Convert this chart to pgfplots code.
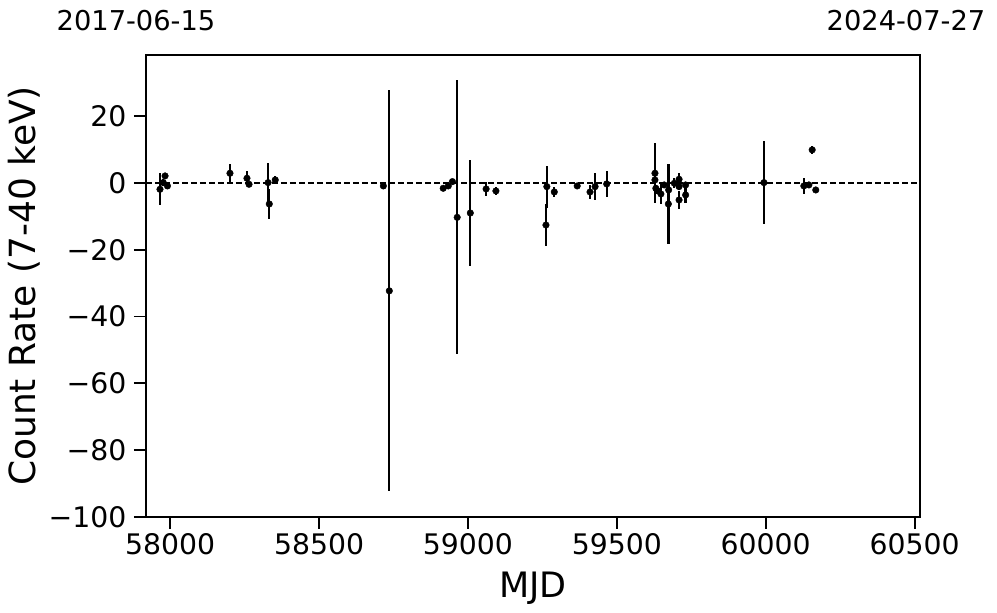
\documentclass[border=0pt]{standalone}
\usepackage{pgfplots}
\pgfplotsset{compat=1.18}
\usepackage{pgfplotstable}
\usepackage{fontspec}
\setmainfont{DejaVu Sans}
\pgfplotstableread{
x y ey
57966 -1.9 4.8
57977 0.1 1.0
57983 2.1 0.8
57991 -0.9 0.8
58201 2.9 2.9
58258 1.4 2.1
58265 -0.4 0.6
58329 0.1 6.0
58333 -6.3 4.6
58353 0.9 1.3
58716 -0.9 0.8
58736 -32.3 60.0
58917 -1.6 0.8
58934 -0.9 0.8
58948 0.4 0.8
58964 -10.3 41.0
59008 -9.0 16.0
59061 -1.8 2.2
59094 -2.4 1.2
59262 -12.6 6.2
59265 -1.1 6.3
59290 -2.7 1.5
59367 -0.9 0.8
59410 -2.7 2.2
59427 -1.1 4.1
59466 -0.3 4.0
59628 2.9 9.0
59628 0.9 1.0
59631 -1.6 1.0
59636 -2.3 1.0
59648 -3.3 3.0
59659 -0.6 1.0
59674 -2.1 1.5
59673 -6.3 12.0
59693 -0.1 1.5
59709 1.1 2.0
59709 -1.1 1.0
59709 -5.1 2.7
59731 -0.6 1.0
59731 -3.6 2.5
59994 0.1 12.5
60128 -0.9 2.3
60145 -0.6 1.0
60156 9.9 1.3
60168 -2.1 1.0
}\datatable
\begin{document}
\begin{tikzpicture}
\begin{axis}[
  scale only axis,
  width=774pt, height=462pt,
  xmin=57919, xmax=60518,
  ymin=-100, ymax=38.3,
  scaled x ticks=false, scaled y ticks=false,
  axis line style={line width=1.1pt},
  xtick={58000,58500,59000,59500,60000,60500},
  xticklabels={58000,58500,59000,59500,60000,60500},
  ytick={-100,-80,-60,-40,-20,0,20},
  yticklabels={−100,−80,−60,−40,−20,0,20},
  tick align=outside,
  xtick pos=bottom, ytick pos=left,
  major tick length=12pt,
  every tick/.style={line width=1.8pt, black},
  tick label style={font=\fontsize{28.3}{32}\selectfont},
  xticklabel style={yshift=-1pt},
  yticklabel style={xshift=-4pt},
  clip=false,
]
\addplot[black, line width=1.7pt, dash pattern=on 6pt off 3pt] coordinates {(57919,0) (60518,0)};
\addplot[only marks, black, mark=*, mark size=3.3pt,
  error bars/.cd, y dir=both, y explicit, error mark=none,
  error bar style={line width=2.3pt, black}]
  table[x=x, y=y, y error=ey] {\datatable};
\coordinate (bl) at (rel axis cs:0,0);
\coordinate (tr) at (rel axis cs:1,1);
\coordinate (tl) at (rel axis cs:0,1);
\coordinate (ml) at (rel axis cs:0,0.5);
\coordinate (bm) at (rel axis cs:0.5,0);
\end{axis}
\node[anchor=base, font=\fontsize{27.3}{32}\selectfont, inner sep=0pt] at ([xshift=-10pt, yshift=24pt]tl) {2017-06-15};
\node[anchor=base, font=\fontsize{27.3}{32}\selectfont, inner sep=0pt] at ([xshift=-14pt, yshift=24pt]tr) {2024-07-27};
\node[anchor=base, rotate=90, font=\fontsize{36}{40}\selectfont, inner sep=0pt] at ([xshift=-110pt]ml) {Count Rate (7-40 keV)};
\node[anchor=base, font=\fontsize{35}{40}\selectfont, inner sep=0pt] at ([yshift=-81pt]bm) {MJD};
\pgfresetboundingbox
\path ([xshift=-146pt, yshift=-96pt]bl) rectangle ([xshift=77pt, yshift=55pt]tr);
\end{tikzpicture}
\end{document}
